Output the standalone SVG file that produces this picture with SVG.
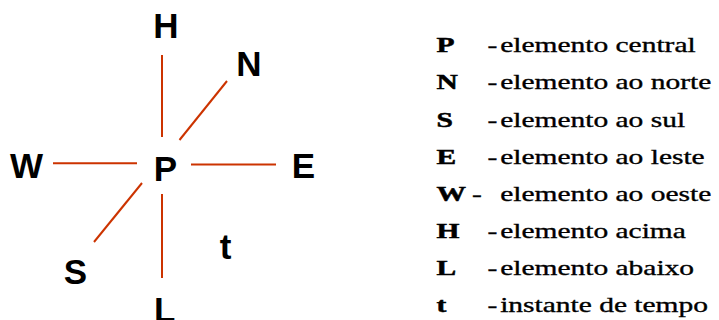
<svg xmlns="http://www.w3.org/2000/svg" width="719" height="320" viewBox="0 0 719 320">
<style>
.lbl{font-family:"Liberation Sans",Arial,sans-serif;font-weight:bold;font-size:35px;fill:#000;text-anchor:middle}
.cn{stroke:#cc3300;stroke-width:2;fill:none}
.lk{font-family:"Liberation Serif","Times New Roman",serif;font-weight:bold;font-size:22px;fill:#000;stroke:#000;stroke-width:0.5}
.lt{font-family:"Liberation Serif","Times New Roman",serif;font-size:22px;fill:#000;stroke:#000;stroke-width:0.35}
</style>
<rect width="719" height="320" fill="#fff"/>
<g id="connectors">
<line class="cn" x1="162" y1="55" x2="162" y2="137"/>
<line class="cn" x1="162" y1="194" x2="162" y2="278"/>
<line class="cn" x1="53" y1="163.3" x2="137" y2="163.3"/>
<line class="cn" x1="191" y1="164.5" x2="276" y2="164.5"/>
<line class="cn" x1="179.5" y1="140" x2="227" y2="81"/>
<line class="cn" x1="142" y1="183" x2="94" y2="242"/>
</g>
<g id="node-H"><text class="lbl" x="166" y="38">H</text></g>
<g id="node-N"><text class="lbl" x="249" y="76">N</text></g>
<g id="node-W"><text class="lbl" x="26.5" y="178">W</text></g>
<g id="node-P"><text class="lbl" x="165.4" y="180.5">P</text></g>
<g id="node-E"><text class="lbl" x="303.5" y="178">E</text></g>
<g id="node-S"><text class="lbl" x="75.5" y="283.5">S</text></g>
<g id="node-t"><text class="lbl" x="225.5" y="258.5">t</text></g>
<g id="node-L"><text class="lbl" x="164.6" y="321.5">L</text></g>
<g id="legend" transform="translate(436.5,0) scale(1.34,1)">
<text class="lk" x="0" y="52">P</text><text class="lt" x="38" y="52">-</text><text class="lt" x="47.5" y="52">elemento central</text>
<text class="lk" x="0" y="89">N</text><text class="lt" x="38" y="89">-</text><text class="lt" x="47.5" y="89">elemento ao norte</text>
<text class="lk" x="0" y="127">S</text><text class="lt" x="38" y="127">-</text><text class="lt" x="47.5" y="127">elemento ao sul</text>
<text class="lk" x="0" y="164">E</text><text class="lt" x="38" y="164">-</text><text class="lt" x="47.5" y="164">elemento ao leste</text>
<text class="lk" x="0" y="201">W</text><text class="lt" x="26.5" y="201">-</text><text class="lt" x="47.5" y="201">elemento ao oeste</text>
<text class="lk" x="0" y="238">H</text><text class="lt" x="38" y="238">-</text><text class="lt" x="47.5" y="238">elemento acima</text>
<text class="lk" x="0" y="275">L</text><text class="lt" x="38" y="275">-</text><text class="lt" x="47.5" y="275">elemento abaixo</text>
<text class="lk" x="0" y="312">t</text><text class="lt" x="38" y="312">-</text><text class="lt" x="47.5" y="312">instante de tempo</text>
</g>
</svg>
